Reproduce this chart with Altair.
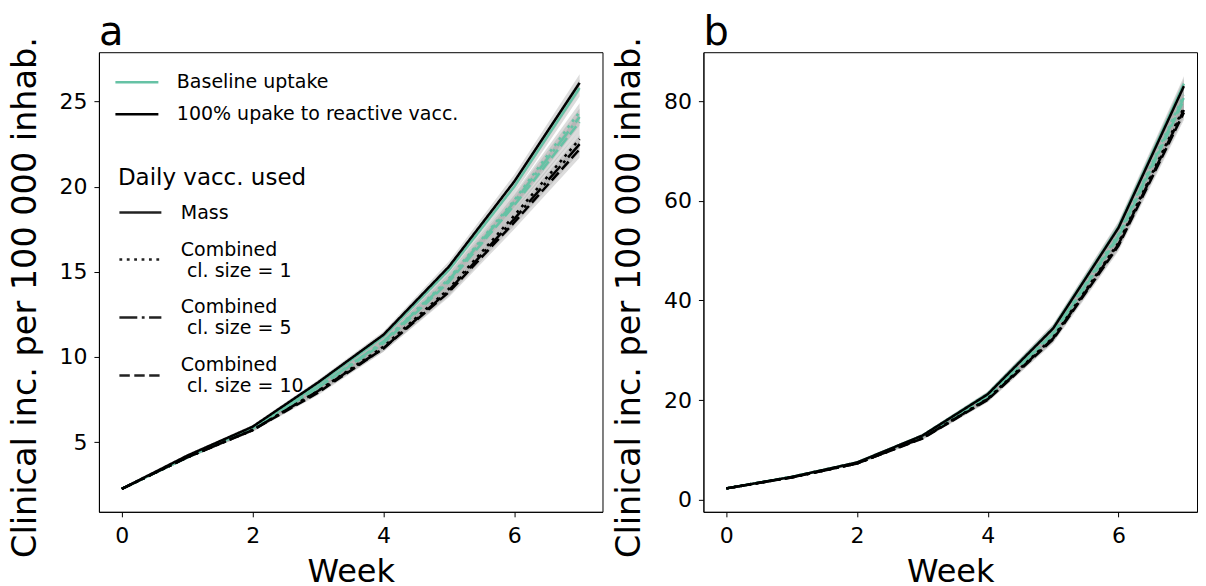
import altair as alt
import pandas as pd

FONT = "DejaVu Sans"
GREEN = "#66c2a5"

weeks = [0, 1, 2, 3, 4, 5, 6, 7]
uptakes = ["Baseline uptake", "100% upake to reactive vacc."]
strategies = ["Mass",
              "Combined|\u200b\u00a0cl. size = 1",
              "Combined|\u200b\u00a0cl. size = 5",
              "Combined|\u200b\u00a0cl. size = 10"]

# Panel a values (clinical incidence per 100 000)
a_base_mass = [2.25, 4.1, 5.8, 8.4, 11.2, 15.1, 20.0, 25.8]
a_base_c1 = [2.25, 4.1, 5.8, 8.2, 10.9, 14.6, 19.2, 24.4]
a_base_c5 = [2.25, 4.1, 5.8, 8.2, 10.9, 14.5, 19.1, 24.1]
a_base_c10 = [2.25, 4.1, 5.8, 8.2, 10.8, 14.4, 18.9, 23.8]
a_full_mass = [2.25, 4.2, 5.9, 8.5, 11.3, 15.3, 20.3, 26.1]
a_full_c1 = [2.25, 4.1, 5.7, 8.0, 10.6, 14.0, 18.3, 22.8]
a_full_c5 = [2.25, 4.1, 5.7, 8.0, 10.5, 13.9, 18.1, 22.5]
a_full_c10 = [2.25, 4.1, 5.7, 7.9, 10.5, 13.8, 17.9, 22.2]
a_band = [0.05, 0.08, 0.1, 0.15, 0.2, 0.3, 0.4, 0.5]

# Panel b values
b_base_mass = [2.3, 4.6, 7.5, 12.9, 21.3, 34.5, 54.8, 83.5]
b_base_c1 = [2.3, 4.6, 7.4, 12.7, 20.9, 33.6, 53.3, 81.2]
b_base_c5 = [2.3, 4.6, 7.4, 12.7, 20.8, 33.4, 53.0, 80.7]
b_base_c10 = [2.3, 4.6, 7.4, 12.6, 20.7, 33.2, 52.7, 80.2]
b_full_mass = [2.3, 4.6, 7.5, 12.9, 21.2, 34.4, 54.6, 83.0]
b_full_c1 = [2.3, 4.5, 7.3, 12.4, 20.3, 32.6, 51.6, 78.7]
b_full_c5 = [2.3, 4.5, 7.3, 12.4, 20.2, 32.4, 51.3, 78.2]
b_full_c10 = [2.3, 4.5, 7.3, 12.3, 20.1, 32.2, 51.0, 77.7]
b_band = [0.1, 0.15, 0.2, 0.3, 0.5, 0.8, 1.1, 1.5]


def build(series_base, series_full, band):
    rows = []
    for up, group in zip(uptakes, [series_base, series_full]):
        for strat, vals in zip(strategies, group):
            for w, v, h in zip(weeks, vals, band):
                rows.append({"week": w, "value": v, "lo": v - h, "hi": v + h,
                             "uptake": up, "strategy": strat, "series": up + strat})
    return pd.DataFrame(rows)


df_a = build([a_base_mass, a_base_c1, a_base_c5, a_base_c10],
             [a_full_mass, a_full_c1, a_full_c5, a_full_c10], a_band)
df_b = build([b_base_mass, b_base_c1, b_base_c5, b_base_c10],
             [b_full_mass, b_full_c1, b_full_c5, b_full_c10], b_band)

dashes = [[1, 0], [2.8, 4.6], [17.9, 4.5, 2.8, 4.5], [10.4, 4.5]]

leg1 = alt.Legend(orient="none", legendX=15, legendY=15, title=None,
                  symbolType="stroke", symbolSize=43 * 43, symbolStrokeWidth=2.5,
                  labelFontSize=19, labelFont=FONT, labelColor="black",
                  labelOffset=17, clipHeight=30, rowPadding=2, padding=0, labelLimit=500)
leg2 = alt.Legend(orient="none", legendX=19, legendY=115, title="Daily vacc. used",
                  titleFontSize=23, titleFont=FONT, titleFontWeight="normal",
                  titleColor="black", titlePadding=0, titleLimit=500,
                  symbolType="stroke", symbolSize=42 * 42, symbolStrokeColor="#222222",
                  symbolStrokeWidth=2.5, labelFontSize=19, labelFont=FONT,
                  labelColor="black", labelOffset=18, rowPadding=14, padding=0,
                  labelLimit=500, labelExpr="split(datum.label, '|')",
                  labelBaseline={"expr": "indexof(datum.label, '|') >= 0 ? 'bottom' : 'middle'"})


def panel(df, xdom, ydom, yvals, width, letter, show_legend):
    x = alt.X("week:Q", scale=alt.Scale(domain=xdom, nice=False, zero=False),
              axis=alt.Axis(values=[0, 2, 4, 6], title="Week", format="d"))
    yax = alt.Axis(values=yvals, title="Clinical inc. per 100 000 inhab.", format="d")
    ysc = alt.Scale(domain=ydom, nice=False, zero=False)
    band = alt.Chart(df).mark_area(color="#9a9a9a", opacity=0.35).encode(
        x=x, y=alt.Y("lo:Q", scale=ysc, axis=yax), y2="hi:Q", detail="series:N")
    lines = alt.Chart(df).mark_line(strokeWidth=2.5).encode(
        x=x,
        y=alt.Y("value:Q", scale=ysc, axis=yax),
        color=alt.Color("uptake:N", scale=alt.Scale(domain=uptakes, range=[GREEN, "black"]),
                        legend=leg1 if show_legend else None),
        strokeDash=alt.StrokeDash("strategy:N", scale=alt.Scale(domain=strategies, range=dashes),
                                  legend=leg2 if show_legend else None),
        detail="series:N",
    )
    return alt.layer(band, lines).properties(
        width=width, height=460,
        title=alt.TitleParams(letter, anchor="start", frame="group", fontSize=40, offset=-16))


pa = panel(df_a, [-0.35, 7.35], [0.9, 27.9], [5, 10, 15, 20, 25], 504, "a", True)
pb = panel(df_b, [-0.35, 7.2], [-2.4, 89.8], [0, 20, 40, 60, 80], 494, "b", False)

chart = alt.hconcat(pa, pb, spacing=9).resolve_scale(
    color="independent", strokeDash="independent"
).resolve_legend(color="independent", strokeDash="independent").properties(
    padding={"left": 0, "top": 3, "right": 0, "bottom": 0}
).configure_view(stroke="black", strokeWidth=1).configure_axis(
    grid=False, domainColor="black", tickColor="black", labelColor="black",
    titleColor="black", labelFont=FONT, titleFont=FONT, labelFontSize=22,
    titleFontSize=32, titleFontWeight="normal", tickSize=5, labelFlush=False
).configure_axisX(labelPadding=9, titlePadding=10).configure_axisY(
    labelPadding=7, titlePadding=16.5, titleFontSize=33.5, titleY=245
).configure_title(font=FONT, fontWeight="normal", color="black")

chart.save("out.html", embed_options={"renderer": "svg", "actions": False})
